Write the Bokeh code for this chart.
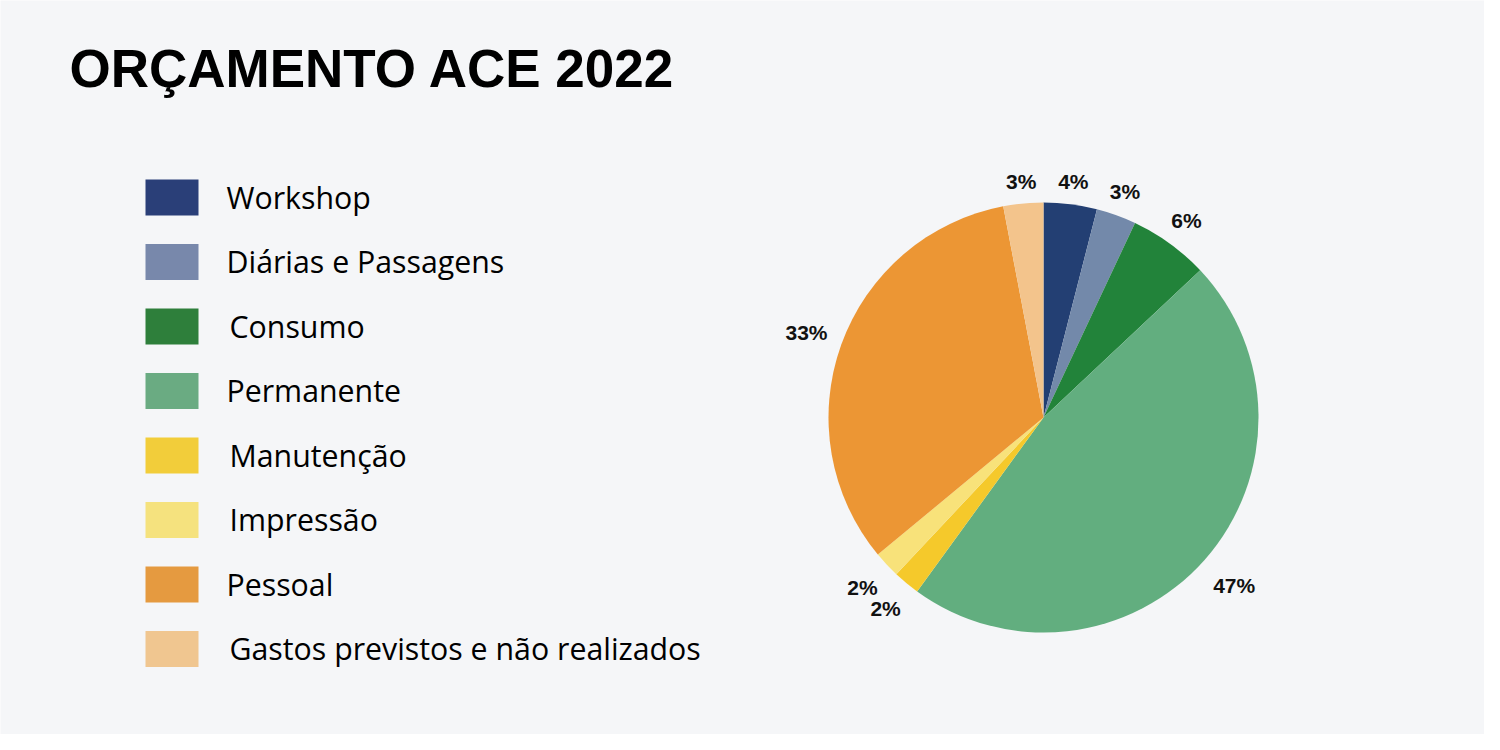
import math
from bokeh.plotting import figure
from bokeh.models import Range1d, ColumnDataSource
from bokeh.core.properties import value
from bokeh.embed import file_html
from bokeh.resources import INLINE

# ---- data ----
title_text = "ORÇAMENTO ACE 2022"
categories = ["Workshop", "Diárias e Passagens", "Consumo", "Permanente",
              "Manutenção", "Impressão", "Pessoal", "Gastos previstos e não realizados"]
percentages = [4, 3, 6, 47, 2, 2, 33, 3]
pie_colors = ["#233f73", "#7389aa", "#22833a", "#62ae7f",
              "#f5c92b", "#f8e27a", "#ec9634", "#f3c48c"]
legend_colors = ["#2a3f78", "#7888ab", "#2e7f3b", "#6aab82",
                 "#f2cd3a", "#f5e27e", "#e59a40", "#f0c690"]
legend_text_dx = [0, 0, 3, 0, 3, 3, 0, 3]

BG = "#f5f6f8"
W, H = 1484, 734

p = figure(width=W, height=H, x_range=Range1d(0, W), y_range=Range1d(0, H),
           output_backend="svg", toolbar_location=None, min_border=0,
           background_fill_color=BG, border_fill_color=BG, outline_line_color=None)
p.axis.visible = False
p.grid.visible = False

# ---- pie ----
cx, cy, R = 1043, 317, 215
total = sum(percentages)
starts, ends, lx, ly, labels = [], [], [], [], []
cum = 0
for v in percentages:
    a0 = cum / total
    cum += v
    a1 = cum / total
    starts.append(math.pi / 2 - 2 * math.pi * a0)
    ends.append(math.pi / 2 - 2 * math.pi * a1)
    mid = 2 * math.pi * (a0 + a1) / 2  # clockwise from top
    s, c = math.sin(mid), math.cos(mid)
    lab = f"{v}%"
    hw = 7.5 * len(lab)
    rl = R + 13 + hw * abs(s) + 8 * abs(c) + (4 if c < 0 else 0)
    lx.append(cx + rl * s)
    ly.append(cy + rl * c)
    labels.append(lab)

src = ColumnDataSource(dict(start=starts, end=ends, color=pie_colors))
p.wedge(x=cx, y=cy, radius=R, start_angle="start", end_angle="end",
        direction="clock", fill_color="color", line_color=None, source=src)

p.text(x=lx, y=ly, text=labels, text_font=value("Liberation Sans"),
       text_font_style="bold", text_font_size="21px", text_align="center",
       text_baseline="middle", text_color="#111111")

# ---- title ----
p.text(x=[69], y=[666], text=[title_text], text_font=value("Liberation Sans"),
       text_font_style="bold", text_font_size="53px", text_baseline="middle",
       text_color="#000000")

# ---- legend ----
row0, step = 742 - 205, 64.5
ys = [row0 - i * step for i in range(len(categories))]
p.rect(x=[171.5] * len(categories), y=ys, width=53, height=36,
       fill_color=legend_colors, line_color=None)
p.text(x=[226 + d for d in legend_text_dx], y=[y + 0.5 for y in ys], text=categories,
       text_font=value("Open Sans"), text_font_size="30.3px",
       text_baseline="middle", text_color="#000000")

html = file_html(p, INLINE)
html = html.replace("<body>", '<body style="background:%s">' % BG, 1)
open("out.html", "w").write(html)
